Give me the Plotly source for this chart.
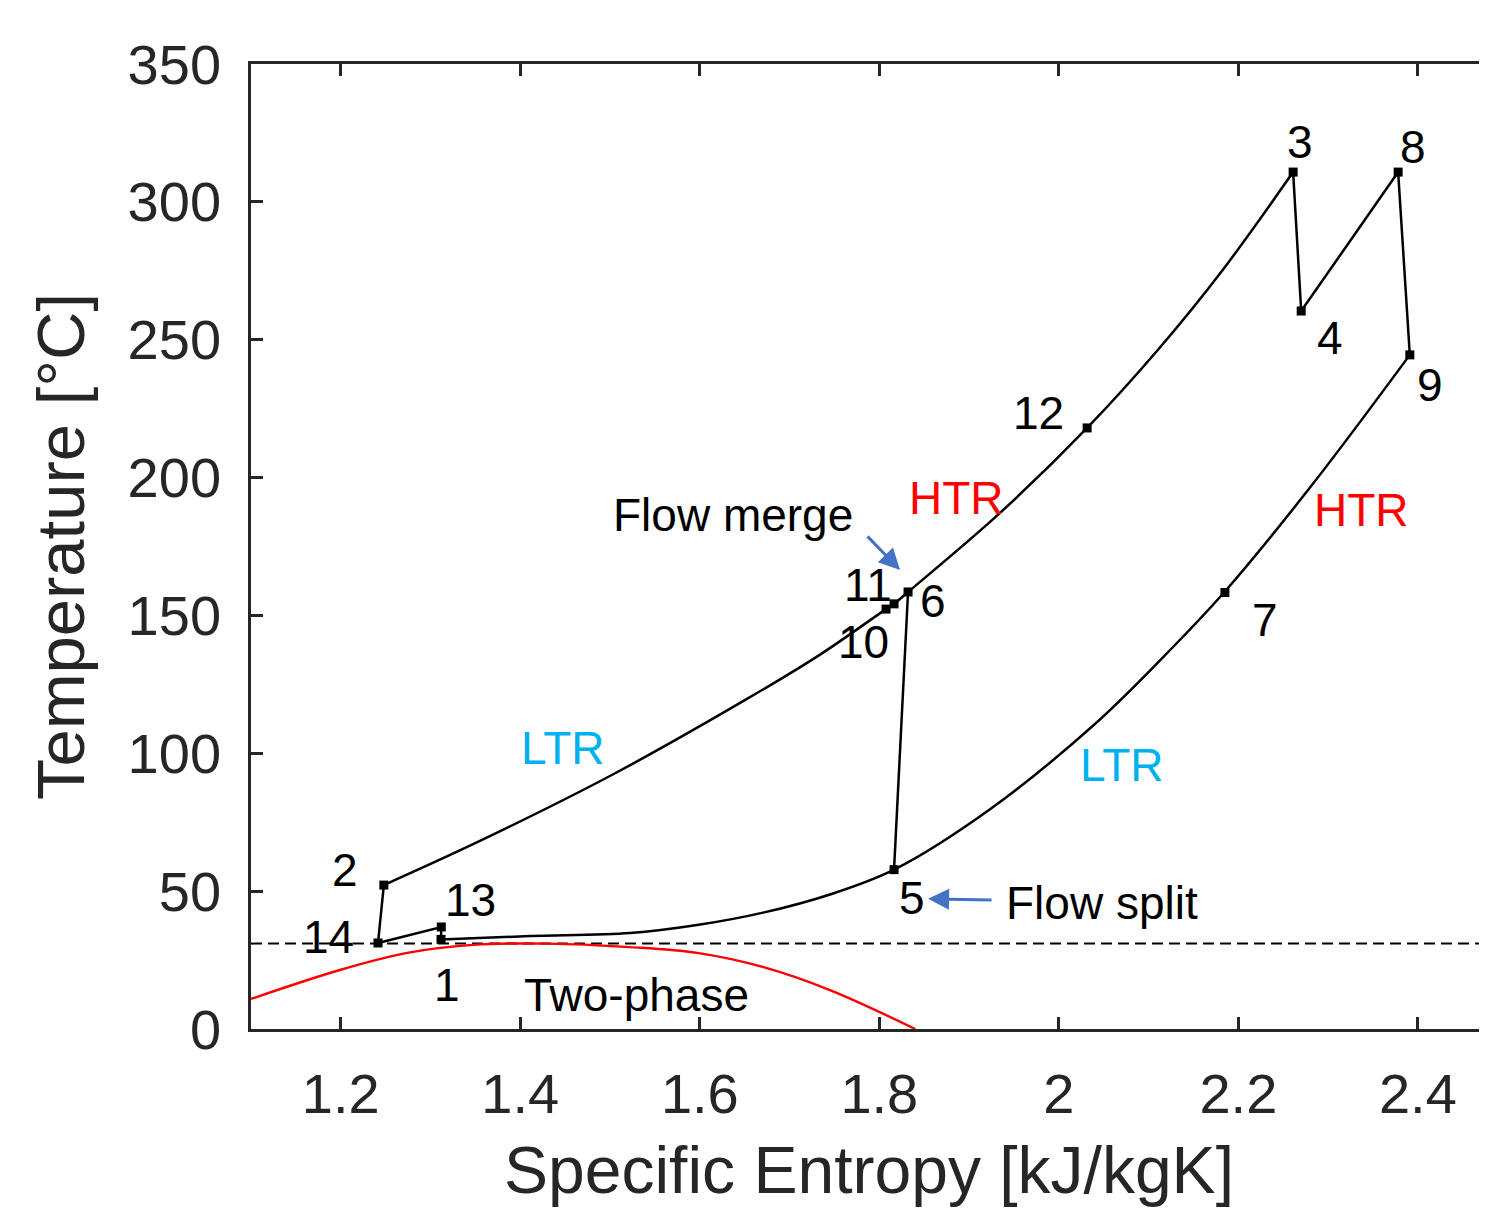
import plotly.graph_objects as go

# ---- data ----
# state points (entropy kJ/kgK, temperature °C)
state_ids = ["1", "2", "3", "4", "5", "6", "7", "8", "9", "10", "11", "12", "13", "14"]
state_s = [1.3117, 1.248, 2.261, 2.270, 1.8164, 1.832, 2.185, 2.378, 2.391, 1.8075, 1.8164, 2.0315, 1.312, 1.2415]
state_T = [32.5, 52.2, 310.8, 260.4, 57.8, 158.5, 158.3, 310.8, 244.5, 152.3, 154.2, 218.0, 37.0, 31.2]

# high-pressure side: 2 -> LTR -> 10 -> 11 -> 6 -> HTR -> 12 -> 3
upper_s = [1.248, 1.355, 1.503, 1.653, 1.734, 1.8075, 1.8164, 1.832, 1.9345, 2.0315, 2.1095, 2.183, 2.261]
upper_T = [52.2, 68.2, 92.3, 119.8, 135.8, 152.3, 154.2, 158.5, 187.2, 218.0, 246.0, 275.5, 310.8]

# low-pressure side: 9 -> HTR -> 7 -> LTR -> 5 -> 1
lower_s = [2.391, 2.282, 2.184, 2.113, 2.038, 1.9245, 1.8164, 1.745, 1.6705, 1.597, 1.5223, 1.4109, 1.3117]
lower_T = [244.5, 197.3, 158.3, 133.8, 110.0, 80.0, 57.8, 48.8, 42.2, 37.7, 34.8, 33.7, 32.5]

# turbines / reheat: 3 -> 4 -> 8 -> 9
turb_s = [2.261, 2.270, 2.378, 2.391]
turb_T = [310.8, 260.4, 310.8, 244.5]

# compressor inlet region: 1 -> 13 -> 14 -> 2
comp_s = [1.3117, 1.312, 1.2415, 1.248]
comp_T = [32.5, 37.0, 31.2, 52.2]

# recompressor: 5 -> 6
recomp_s = [1.8164, 1.832]
recomp_T = [57.8, 158.5]

# CO2 saturation dome
dome_s = [1.10, 1.199, 1.274, 1.347, 1.43, 1.522, 1.597, 1.670, 1.745, 1.84]
dome_T = [10.9, 21.4, 27.6, 30.5, 30.98, 29.7, 27.6, 22.5, 14.1, 0.0]

# critical temperature line
crit_T = 30.98
crit_s = [1.10, 2.50]

x_tickvals = [1.2, 1.4, 1.6, 1.8, 2.0, 2.2, 2.4]
x_ticktext = ["1.2", "1.4", "1.6", "1.8", "2", "2.2", "2.4"]
y_tickvals = [0, 50, 100, 150, 200, 250, 300, 350]

FONT = "Liberation Sans, Arial, sans-serif"
AX = "#262626"
LW = 2.5

fig = go.Figure()

fig.add_trace(go.Scatter(x=crit_s, y=[crit_T, crit_T], mode="lines",
                         line=dict(color="black", width=2, dash="11px,6px"), hoverinfo="skip"))
fig.add_trace(go.Scatter(x=dome_s, y=dome_T, mode="lines", line_shape="spline",
                         line=dict(color="#FF0000", width=2.4), hoverinfo="skip"))
fig.add_trace(go.Scatter(x=upper_s, y=upper_T, mode="lines", line_shape="spline",
                         line=dict(color="black", width=LW, smoothing=1.0)))
fig.add_trace(go.Scatter(x=lower_s, y=lower_T, mode="lines", line_shape="spline",
                         line=dict(color="black", width=LW, smoothing=1.0)))
for xs, ys in [(turb_s, turb_T), (comp_s, comp_T), (recomp_s, recomp_T)]:
    fig.add_trace(go.Scatter(x=xs, y=ys, mode="lines", line=dict(color="black", width=LW)))
fig.add_trace(go.Scatter(x=state_s, y=state_T, mode="markers", text=state_ids,
                         marker=dict(symbol="square", size=9, color="black")))

def label(x, y, t, color="black", size=46):
    fig.add_annotation(x=x, y=y, text=t, showarrow=False,
                       font=dict(family=FONT, size=size, color=color),
                       xanchor="center", yanchor="middle")

label(2.2688, 321.7, "3")
label(2.3947, 319.9, "8")
label(2.3022, 250.6, "4")
label(2.4137, 233.6, "9")
label(1.9769, 223.4, "12")
label(1.8855, 192.6, "HTR", "#FF0000")
label(2.3368, 188.2, "HTR", "#FF0000")
label(1.637, 186.4, "Flow merge")
label(1.7875, 161.0, "11")
label(1.8599, 155.2, "6")
label(1.7819, 140.4, "10")
label(2.2298, 148.3, "7")
label(1.4476, 101.9, "LTR", "#00B0F0")
label(2.0705, 95.8, "LTR", "#00B0F0")
label(1.2047, 57.7, "2")
label(1.344, 46.8, "13")
label(1.1858, 33.4, "14")
label(1.8365, 47.5, "5")
label(2.0482, 45.7, "Flow split")
label(1.3184, 16.0, "1")
label(1.530, 12.3, "Two-phase")

# arrows
fig.add_annotation(x=1.8231, y=166.5, ax=1.7852, ay=179.2, axref="x", ayref="y",
                   xref="x", yref="y", text="", showarrow=True, arrowhead=2,
                   arrowsize=1.4, arrowwidth=3, arrowcolor="#4472C4")
fig.add_annotation(x=1.8543, y=47.2, ax=1.9267, ay=46.8, axref="x", ayref="y",
                   xref="x", yref="y", text="", showarrow=True, arrowhead=2,
                   arrowsize=1.4, arrowwidth=3, arrowcolor="#4472C4")

# the page body has an 8px margin; size the figure so the page does not scroll
fig.update_layout(
    width=1479, height=1199,
    margin=dict(l=243, r=0, t=56, b=178),
    paper_bgcolor="white", plot_bgcolor="white",
    showlegend=False,
    font=dict(family=FONT, color=AX),
)
fig.update_xaxes(range=[1.1, 2.477], tickvals=x_tickvals, ticktext=x_ticktext,
                 showgrid=False, zeroline=False, showline=True, linecolor=AX, linewidth=2.5,
                 mirror="ticks", ticks="inside", ticklen=12, tickwidth=2.5, tickcolor=AX,
                 tickfont=dict(family=FONT, size=56, color=AX), ticklabelstandoff=14,
                 title=dict(text="Specific Entropy [kJ/kgK]", font=dict(family=FONT, size=66, color=AX),
                            standoff=34))
fig.update_yaxes(range=[0, 350], tickvals=y_tickvals,
                 showgrid=False, zeroline=False, showline=True, linecolor=AX, linewidth=2.5,
                 mirror=False, ticks="inside", ticklen=12, tickwidth=2.5, tickcolor=AX,
                 tickfont=dict(family=FONT, size=56, color=AX), ticklabelstandoff=16,
                 title=dict(text="Temperature [°C]", font=dict(family=FONT, size=67, color=AX),
                            standoff=22))

fig.write_html("out.html")
